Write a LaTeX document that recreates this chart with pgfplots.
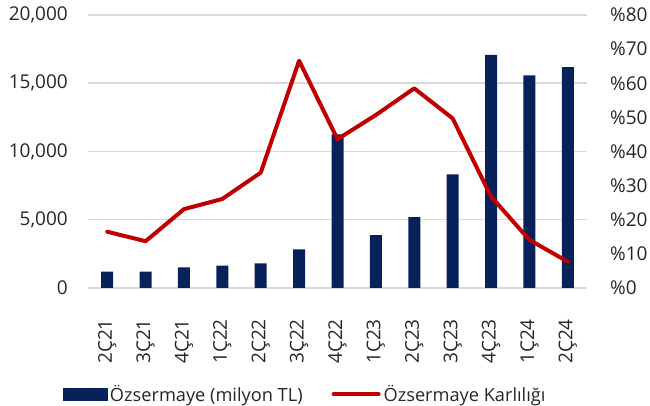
\documentclass[border=0pt]{standalone}
\usepackage{pgfplots}
\pgfplotsset{compat=1.18}
\usepackage{fontspec}
\setmainfont{Open Sans}
\definecolor{navy}{HTML}{08215A}
\definecolor{redl}{HTML}{C00000}
\definecolor{gridc}{HTML}{D9D9D9}
\definecolor{txt}{HTML}{262626}
\begin{document}
\begin{tikzpicture}
\useasboundingbox (-88pt,-118pt) rectangle (562pt,288pt);
\pgfplotsset{base/.style={scale only axis, width=499pt, height=273pt,
  at={(0pt,0pt)}, anchor=south west, xmin=-0.5, xmax=12.5, ymin=0,
  axis line style={draw=none}, major tick length=0pt,
  tick label style={font=\fontsize{19}{23}\selectfont, text=txt, inner sep=0pt},
  /pgf/number format/assume math mode=true}}
\begin{axis}[base, ymax=20000, ytick={0,5000,10000,15000,20000},
  ymajorgrids, grid style={gridc, line width=1.5pt},
  scaled y ticks=false,
  yticklabel style={/pgf/number format/.cd, fixed, 1000 sep={,}},
  yticklabel shift=20pt,
  xtick={0,...,12},
  xticklabels={2Ç21,3Ç21,4Ç21,1Ç22,2Ç22,3Ç22,4Ç22,1Ç23,2Ç23,3Ç23,4Ç23,1Ç24,2Ç24},
  xticklabel style={rotate=90, anchor=east},
  xticklabel shift=31pt]
\addplot[ybar, bar width=12pt, fill=navy, draw=none] coordinates {
(0,1200) (1,1200) (2,1520) (3,1630) (4,1800) (5,2830) (6,11260)
(7,3880) (8,5200) (9,8330) (10,17070) (11,15580) (12,16190)};
\end{axis}
\begin{axis}[base, ymax=80, ytick={0,10,...,80}, axis y line*=right,
  hide x axis, yticklabel={\%\pgfmathprintnumber{\tick}},
  yticklabel shift=23pt,
  legend columns=2,
  legend style={at={(0.436,-0.389)}, anchor=center, draw=none, fill=none,
    font=\fontsize{18.2}{22}\selectfont, text=txt, inner sep=0pt,
    nodes={inner xsep=3pt, inner ysep=0pt},
    /tikz/every even column/.append style={column sep=26pt}},
  legend cell align=left]
\addlegendimage{legend image code/.code={\fill[navy] (0pt,-6pt) rectangle (44pt,6pt);}}
\addlegendentry{Özsermaye (milyon TL)}
\addlegendimage{legend image code/.code={\draw[redl, line width=4pt, line cap=round] (2pt,0pt) -- (47pt,0pt);}}
\addlegendentry{Özsermaye Karlılığı}
\addplot[redl, line width=4pt, line join=round, line cap=round, forget plot] coordinates {
(0,16.5) (1,13.7) (2,23.1) (3,26.1) (4,33.8) (5,66.6) (6,43.6)
(7,50.7) (8,58.5) (9,49.7) (10,26.8) (11,14.1) (12,7.7)};
\end{axis}
\end{tikzpicture}
\end{document}
